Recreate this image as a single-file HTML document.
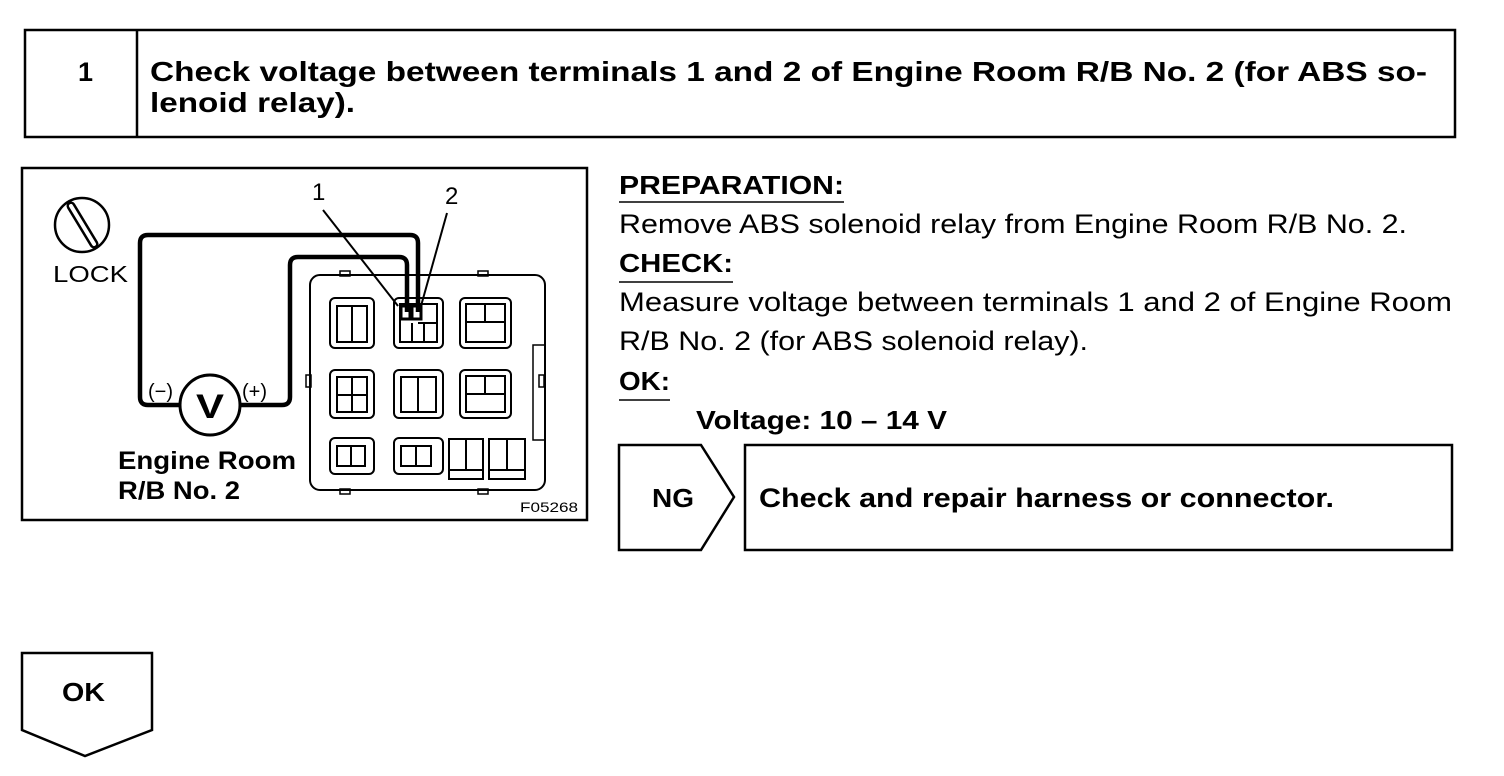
<!DOCTYPE html>
<html><head><meta charset="utf-8"><style>
html,body{margin:0;padding:0;background:#fff;}
svg{display:block;}
text{font-family:"Liberation Sans",Arial,sans-serif;fill:#000;}
.b{font-weight:bold;}
</style></head><body>
<svg width="1504" height="776" viewBox="0 0 1504 776" xmlns="http://www.w3.org/2000/svg">
<g fill="none" stroke="#000" stroke-width="2.5">
<rect x="25" y="30" width="1430" height="107"/>
<line x1="137" y1="30" x2="137" y2="137"/>
</g>
<text x="78" y="81" class="b" font-size="27">1</text>
<text x="150" y="81" class="b" font-size="28" textLength="1277" lengthAdjust="spacingAndGlyphs">Check voltage between terminals 1 and 2 of Engine Room R/B No. 2 (for ABS so-</text>
<text x="150" y="112" class="b" font-size="28" textLength="205" lengthAdjust="spacingAndGlyphs">lenoid relay).</text>

<!-- diagram -->
<g fill="none" stroke="#000">
<rect x="22" y="168" width="565" height="352" stroke-width="2.5"/>
<circle cx="82" cy="225" r="27" stroke-width="2.5"/>
<path d="M71 206 L94 244" stroke-width="9" stroke-linecap="round"/>
<path d="M71 206 L94 244" stroke="#fff" stroke-width="4" stroke-linecap="round"/>
<path d="M180 405 L148 405 Q140 405 140 397 L140 243 Q140 235 148 235 L410 235 Q418 235 418 243 L418 312" stroke-width="4.5"/>
<path d="M240 405 L282 405 Q290 405 290 397 L290 265 Q290 257 298 257 L399 257 Q407 257 407 265 L407 312" stroke-width="4.5"/>
<circle cx="210" cy="405" r="30" stroke-width="3"/>
<line x1="323" y1="210" x2="398" y2="306" stroke-width="2"/>
<line x1="447" y1="213" x2="421" y2="306" stroke-width="2"/>
<rect x="310" y="275" width="235" height="215" rx="10" stroke-width="2"/>
<rect x="340" y="271" width="10" height="5" stroke-width="1.5"/>
<rect x="478" y="271" width="10" height="5" stroke-width="1.5"/>
<rect x="340" y="489" width="10" height="5" stroke-width="1.5"/>
<rect x="478" y="489" width="10" height="5" stroke-width="1.5"/>
<rect x="533" y="345" width="12" height="95" stroke-width="1.5"/>
<rect x="306" y="375" width="5" height="12" stroke-width="1.5"/>
<rect x="539" y="375" width="5" height="12" stroke-width="1.5"/>
<g stroke-width="2">
<rect x="330" y="298" width="44" height="50" rx="5"/>
<rect x="337" y="306" width="30" height="36"/>
<rect x="394" y="298" width="49" height="50" rx="5"/>
<rect x="400" y="304" width="37" height="38"/>
<rect x="460" y="298" width="51" height="50" rx="5"/>
<rect x="466" y="304" width="39" height="38"/>
<rect x="330" y="370" width="44" height="48" rx="5"/>
<rect x="337" y="377" width="30" height="35"/>
<rect x="394" y="370" width="49" height="48" rx="5"/>
<rect x="401" y="377" width="35" height="35"/>
<rect x="460" y="370" width="51" height="48" rx="5"/>
<rect x="466" y="376" width="39" height="36"/>
<rect x="330" y="438" width="44" height="36" rx="5"/>
<rect x="337" y="446" width="28" height="20"/>
<rect x="394" y="438" width="49" height="36" rx="5"/>
<rect x="401" y="446" width="30" height="20"/>
<rect x="449" y="439" width="34" height="40"/>
<rect x="489" y="439" width="36" height="40"/>
<line x1="449" y1="470" x2="483" y2="470"/>
<line x1="489" y1="470" x2="525" y2="470"/>
<line x1="466" y1="439" x2="466" y2="470"/>
<line x1="507" y1="439" x2="507" y2="470"/>
<line x1="352" y1="306" x2="352" y2="342"/>
<line x1="418" y1="323" x2="437" y2="323"/>
<line x1="412" y1="323" x2="412" y2="342"/>
<line x1="424" y1="323" x2="424" y2="342"/>
<line x1="352" y1="377" x2="352" y2="412"/>
<line x1="337" y1="395" x2="367" y2="395"/>
<line x1="485" y1="376" x2="485" y2="394"/>
<line x1="466" y1="394" x2="505" y2="394"/>
<line x1="485" y1="304" x2="485" y2="322"/>
<line x1="466" y1="322" x2="505" y2="322"/>
<line x1="418" y1="377" x2="418" y2="412"/>
<line x1="351" y1="446" x2="351" y2="466"/>
<line x1="416" y1="446" x2="416" y2="466"/>
</g>
<rect x="401" y="306" width="9" height="13" stroke-width="3"/>
<rect x="412" y="306" width="9" height="13" stroke-width="3"/>
</g>
<text x="53" y="282" font-size="23" textLength="75" lengthAdjust="spacingAndGlyphs">LOCK</text>
<text x="196" y="418" class="b" font-size="34" textLength="28" lengthAdjust="spacingAndGlyphs">V</text>
<text x="148" y="398" font-size="20">(−)</text>
<text x="242" y="398" font-size="20">(+)</text>
<text x="312" y="200" font-size="24">1</text>
<text x="445" y="204" font-size="24">2</text>
<text x="118" y="469" class="b" font-size="25" textLength="178" lengthAdjust="spacingAndGlyphs">Engine Room</text>
<text x="118" y="499" class="b" font-size="25" textLength="122" lengthAdjust="spacingAndGlyphs">R/B No. 2</text>
<text x="520" y="512" font-size="14" textLength="58" lengthAdjust="spacingAndGlyphs">F05268</text>

<!-- right text -->
<text x="619" y="194" class="b" font-size="26" textLength="225" lengthAdjust="spacingAndGlyphs">PREPARATION:</text>
<line x1="619" y1="202" x2="844" y2="202" stroke="#000" stroke-width="1.5"/>
<text x="619" y="233" font-size="27" textLength="788" lengthAdjust="spacingAndGlyphs">Remove ABS solenoid relay from Engine Room R/B No. 2.</text>
<text x="619" y="272" class="b" font-size="26" textLength="114" lengthAdjust="spacingAndGlyphs">CHECK:</text>
<line x1="619" y1="282" x2="733" y2="282" stroke="#000" stroke-width="1.5"/>
<text x="619" y="311" font-size="27" textLength="833" lengthAdjust="spacingAndGlyphs">Measure voltage between terminals 1 and 2 of Engine Room</text>
<text x="619" y="350" font-size="27" textLength="469" lengthAdjust="spacingAndGlyphs">R/B No. 2 (for ABS solenoid relay).</text>
<text x="619" y="390" class="b" font-size="26" textLength="51" lengthAdjust="spacingAndGlyphs">OK:</text>
<line x1="619" y1="400" x2="670" y2="400" stroke="#000" stroke-width="1.5"/>
<text x="696" y="429" class="b" font-size="26" textLength="251" lengthAdjust="spacingAndGlyphs">Voltage: 10 – 14 V</text>

<g fill="none" stroke="#000" stroke-width="2.5">
<path d="M619 445 L701 445 L734 497 L701 550 L619 550 Z"/>
<rect x="745" y="445" width="707" height="105"/>
<path d="M22 653 L152 653 L152 730 L85 756 L22 730 Z"/>
</g>
<text x="652" y="507" class="b" font-size="26" textLength="42" lengthAdjust="spacingAndGlyphs">NG</text>
<text x="759" y="507" class="b" font-size="27" textLength="575" lengthAdjust="spacingAndGlyphs">Check and repair harness or connector.</text>
<text x="62" y="701" class="b" font-size="26" textLength="43" lengthAdjust="spacingAndGlyphs">OK</text>
</svg>
</body></html>
